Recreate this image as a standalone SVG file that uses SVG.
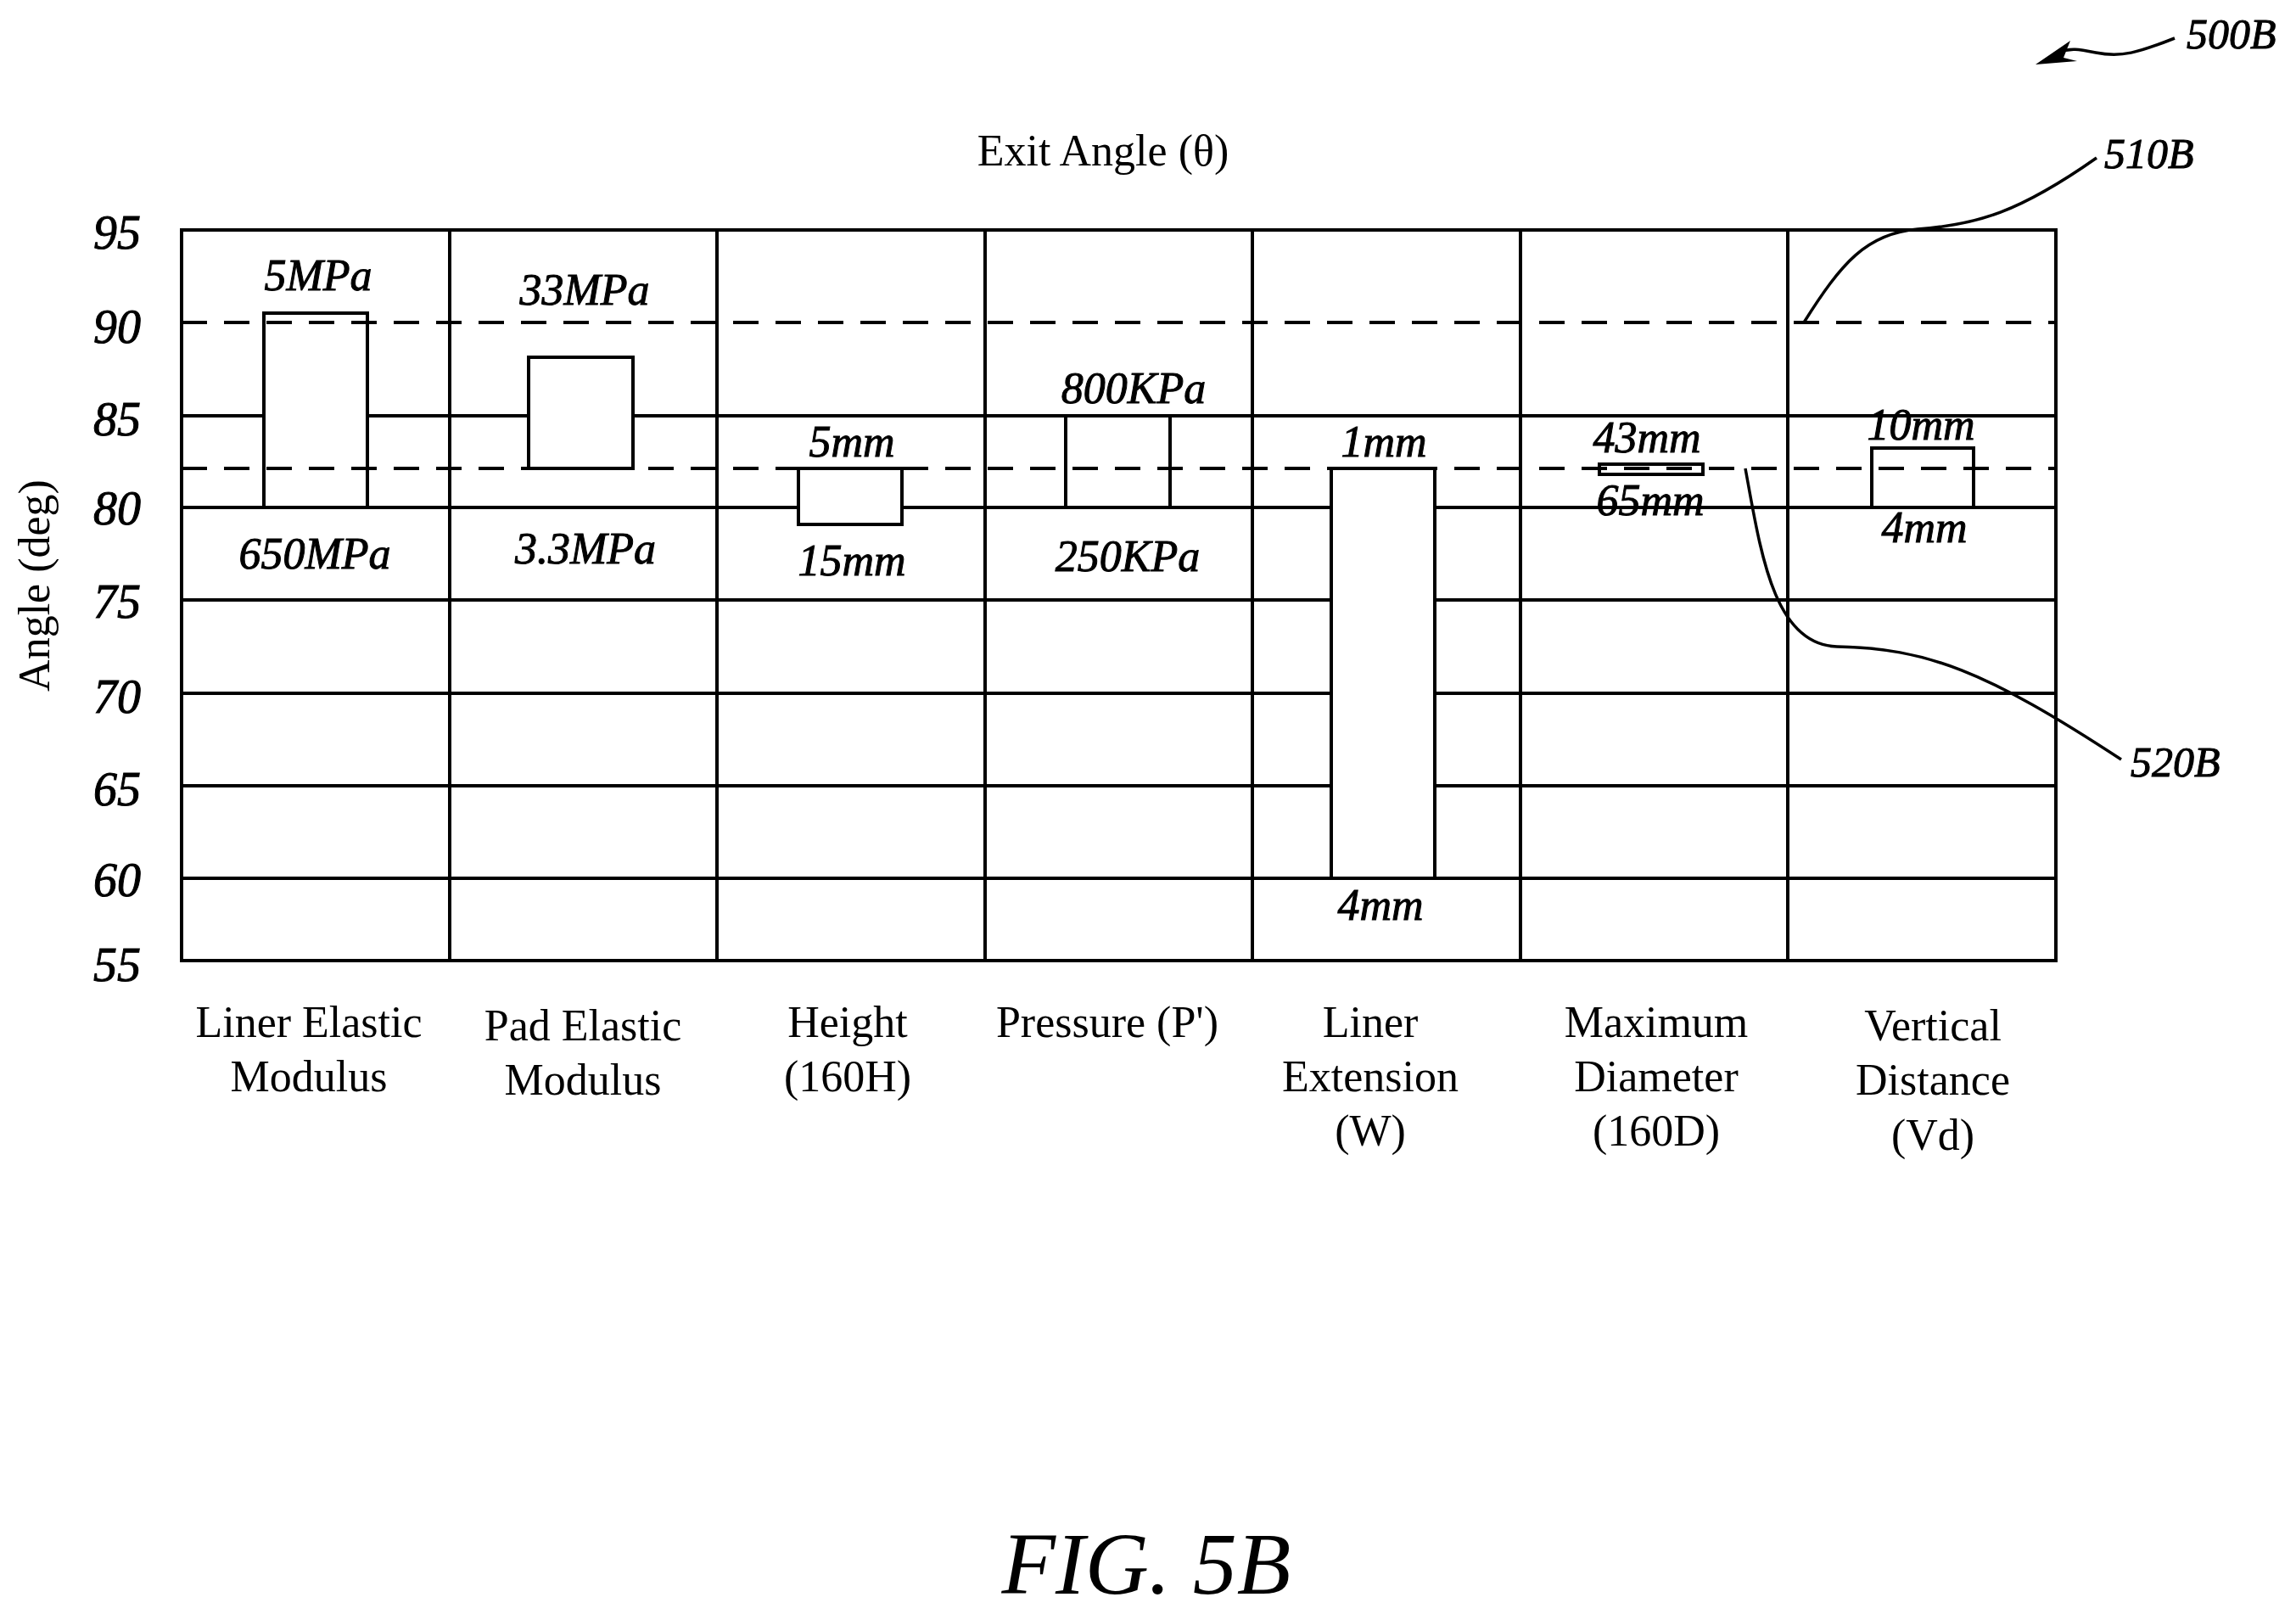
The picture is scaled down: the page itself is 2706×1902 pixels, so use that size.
<svg xmlns="http://www.w3.org/2000/svg" width="2706" height="1902" viewBox="0 0 2706 1902">
<style>
.g{stroke:#000;stroke-width:4;fill:none}
.d{stroke:#000;stroke-width:4;fill:none;stroke-dasharray:30 20}
.b{stroke:#000;stroke-width:4;fill:#fff}
.v{font-family:"Liberation Serif",serif;font-style:italic;font-size:52px;text-anchor:middle;stroke:#000;stroke-width:1}
.y{font-family:"Liberation Serif",serif;font-style:italic;font-size:56px;text-anchor:middle;stroke:#000;stroke-width:1}
.t{font-family:"Liberation Serif",serif;font-size:52px;text-anchor:middle}
.r{font-family:"Liberation Serif",serif;font-style:italic;font-size:50px;stroke:#000;stroke-width:1}
.l{stroke:#000;stroke-width:3.5;fill:none}
</style>
<rect width="2706" height="1902" fill="#fff"/>
<g id="grid">
<rect class="g" x="214" y="271" width="2209" height="861"/>
<path class="g" d="M530,271V1132M845,271V1132M1161,271V1132M1476,271V1132M1792,271V1132M2107,271V1132"/>
<path class="g" d="M214,490H2423M214,598H2423M214,707H2423M214,817H2423M214,926H2423M214,1035H2423"/>
</g>
<g id="bars">
<rect class="b" x="311" y="369" width="122" height="229"/>
<rect class="b" x="623" y="421" width="123" height="131"/>
<rect class="b" x="941" y="552" width="122" height="66"/>
<rect class="b" x="1256" y="490" width="123" height="108"/>
<rect class="b" x="1569" y="552" width="122" height="483"/>
<rect class="b" x="1885" y="547" width="122" height="12"/>
<rect class="b" x="2206" y="528" width="120" height="70"/>
</g>
<g id="dashes">
<path class="d" d="M214,380H2423"/>
<path class="d" d="M214,552H2423"/>
</g>
<g id="values">
<text class="v" x="375" y="342">5MPa</text>
<text class="v" x="371" y="670">650MPa</text>
<text class="v" x="689" y="359">33MPa</text>
<text class="v" x="690" y="664">3.3MPa</text>
<text class="v" x="1004" y="538">5mm</text>
<text class="v" x="1004" y="678">15mm</text>
<text class="v" x="1336" y="475">800KPa</text>
<text class="v" x="1329" y="673">250KPa</text>
<text class="v" x="1631" y="538">1mm</text>
<text class="v" x="1627" y="1084">4mm</text>
<text class="v" x="1941" y="533">43mm</text>
<text class="v" x="1945" y="607">65mm</text>
<text class="v" x="2264" y="518">10mm</text>
<text class="v" x="2268" y="639">4mm</text>
</g>
<g id="yaxis">
<text class="y" x="138" y="293">95</text>
<text class="y" x="138" y="404">90</text>
<text class="y" x="138" y="513">85</text>
<text class="y" x="138" y="618">80</text>
<text class="y" x="138" y="728">75</text>
<text class="y" x="138" y="840">70</text>
<text class="y" x="138" y="949">65</text>
<text class="y" x="138" y="1056">60</text>
<text class="y" x="138" y="1156">55</text>
<text class="t" transform="translate(58,690) rotate(-90)">Angle (deg)</text>
<text class="t" x="1300" y="195">Exit Angle (θ)</text>
</g>
<g id="columns">
<text class="t" x="364" y="1222">Liner Elastic</text><text class="t" x="364" y="1286">Modulus</text>
<text class="t" x="687" y="1226">Pad Elastic</text><text class="t" x="687" y="1290">Modulus</text>
<text class="t" x="999" y="1222">Height</text><text class="t" x="999" y="1286">(160H)</text>
<text class="t" x="1305" y="1222">Pressure (P')</text>
<text class="t" x="1615" y="1222">Liner</text><text class="t" x="1615" y="1286">Extension</text><text class="t" x="1615" y="1350">(W)</text>
<text class="t" x="1952" y="1222">Maximum</text><text class="t" x="1952" y="1286">Diameter</text><text class="t" x="1952" y="1350">(160D)</text>
<text class="t" x="2278" y="1226">Vertical</text><text class="t" x="2278" y="1290">Distance</text><text class="t" x="2278" y="1355">(Vd)</text>
</g>
<g id="refs">
<text class="r" x="2577" y="57">500B</text>
<path class="l" d="M2563,45 C2520,62 2500,68 2470,62 C2450,58 2440,56 2425,62"/>
<path d="M2399,76 L2440,48 L2432,68 L2448,72 Z" fill="#000"/>
<text class="r" x="2480" y="198">510B</text>
<path class="l" d="M2126,380 C2170,310 2200,275 2260,270 C2330,265 2380,250 2471,186"/>
<text class="r" x="2511" y="915">520B</text>
<path class="l" d="M2057,552 C2075,650 2090,760 2165,762 C2270,764 2340,790 2500,895"/>
<text x="1351" y="1878" font-family="Liberation Serif,serif" font-style="italic" font-size="104" text-anchor="middle">FIG. 5B</text>
</g>
</svg>
